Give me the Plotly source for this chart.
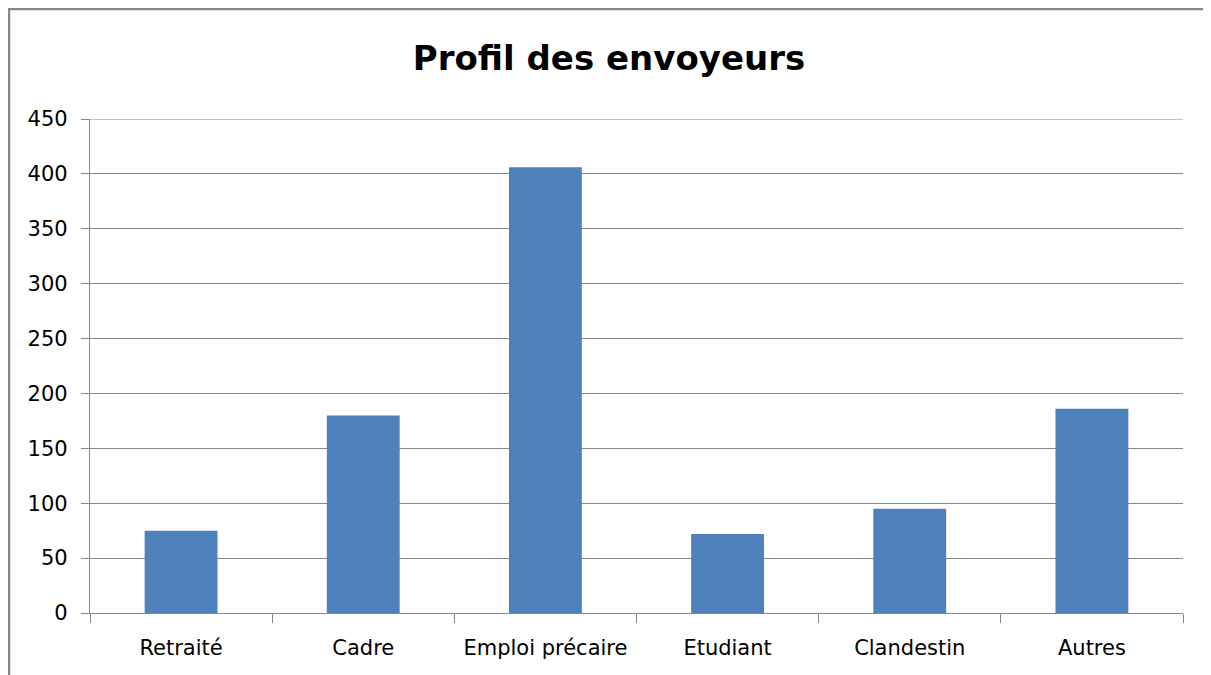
import plotly.graph_objects as go

categories = ["Retraité", "Cadre", "Emploi précaire", "Etudiant", "Clandestin", "Autres"]
values = [75, 180, 406, 72, 95, 186]
title_text = "Profil des envoyeurs"

W, H = 1211, 675
# the page body adds an 8px offset, compensate in margins
ml, mr, mt, mb = 82, 36, 111, 70
pw = W - ml - mr
ph = H - mt - mb

GRAY = "#868686"
FONT = "'DejaVu Sans', Verdana, sans-serif"

fig = go.Figure(go.Bar(x=categories, y=values, marker_color="#4F81BD", marker_line_width=0))

fig.update_layout(
    width=W, height=H,
    margin=dict(l=ml, r=mr, t=mt, b=mb),
    paper_bgcolor="white", plot_bgcolor="white",
    bargap=0.6,
    showlegend=False,
    font=dict(family=FONT, color="#000000"),
    title=dict(text="<b>" + title_text + "</b>", x=601 / W, xref="container", xanchor="center",
               y=1 - 50 / H, yanchor="middle",
               font=dict(size=34, family=FONT, color="#000000")),
    shapes=[
        dict(type="rect", xref="paper", yref="paper",
             x0=(1 - ml) / pw, x1=1.3, y0=-0.4, y1=(ph + mt - 1) / ph,
             line=dict(color=GRAY, width=2.5), layer="below"),
        dict(type="line", xref="paper", yref="y", x0=0, x1=1, y0=450, y1=450,
             line=dict(color=GRAY, width=1), layer="below"),
    ],
)

fig.update_xaxes(
    showline=True, linecolor=GRAY, linewidth=1.2,
    ticks="outside", tickson="boundaries", ticklen=9, tickcolor=GRAY, tickwidth=1.2,
    showgrid=False, tickfont=dict(size=21, color="#000000"),
    ticklabelstandoff=16,
)
fig.update_yaxes(
    range=[0, 450], dtick=50, tick0=0,
    showline=True, linecolor=GRAY, linewidth=1.2,
    ticks="outside", ticklen=8, tickcolor=GRAY, tickwidth=1.2,
    showgrid=True, gridcolor=GRAY, gridwidth=1, zeroline=False,
    tickfont=dict(size=21, color="#000000"),
    ticklabelstandoff=9,
)

fig.write_html("out.html")
